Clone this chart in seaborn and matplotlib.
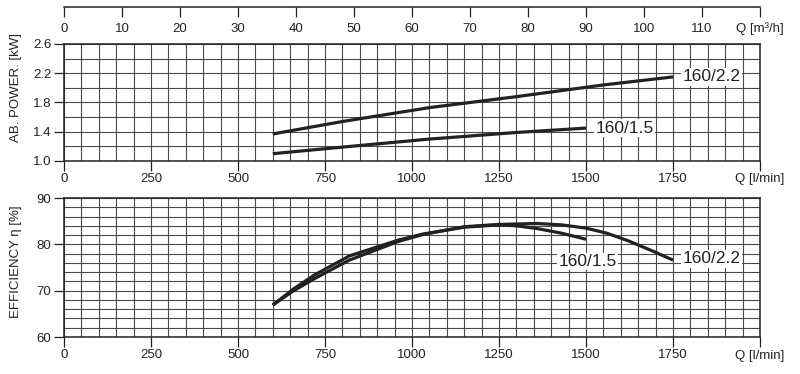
import numpy as np
import pandas as pd
import matplotlib
matplotlib.use("Agg")
import matplotlib.pyplot as plt
import seaborn as sns

# ---- data ----
q_pw_22 = [600, 800, 1050, 1300, 1550, 1750]
power_22 = [1.37, 1.54, 1.73, 1.88, 2.04, 2.15]
q_pw_15 = [600, 800, 1050, 1300, 1500]
power_15 = [1.10, 1.19, 1.30, 1.39, 1.45]

q_ef_22 = [600, 660, 720, 820, 960, 1030, 1150, 1250, 1360, 1430, 1500, 1560, 1620, 1690, 1750]
eff_22 = [66.9, 70.0, 72.6, 76.6, 80.6, 82.1, 83.8, 84.3, 84.5, 84.2, 83.5, 82.4, 80.8, 78.6, 76.6]
q_ef_15 = [600, 660, 720, 820, 960, 1030, 1150, 1250, 1300, 1360, 1430, 1500]
eff_15 = [66.9, 70.4, 73.4, 77.5, 80.9, 82.2, 83.7, 84.2, 84.0, 83.4, 82.4, 81.1]

series_names = ["160/2.2", "160/1.5"]
q_lmin_ticks = [0, 250, 500, 750, 1000, 1250, 1500, 1750, 2000]
q_lmin_labels = ["0", "250", "500", "750", "1000", "1250", "1500", "1750", "Q [l/min]"]
q_m3h_ticks = [0, 10, 20, 30, 40, 50, 60, 70, 80, 90, 100, 110, 120]
q_m3h_labels = ["0", "10", "20", "30", "40", "50", "60", "70", "80", "90", "100", "110", "Q [m³/h]"]
power_ticks = [1.0, 1.4, 1.8, 2.2, 2.6]
eff_ticks = [60, 70, 80, 90]

df_pw = pd.concat([
    pd.DataFrame({"Q": q_pw_22, "power": power_22, "model": series_names[0]}),
    pd.DataFrame({"Q": q_pw_15, "power": power_15, "model": series_names[1]}),
])
df_ef = pd.concat([
    pd.DataFrame({"Q": q_ef_22, "eff": eff_22, "model": series_names[0]}),
    pd.DataFrame({"Q": q_ef_15, "eff": eff_15, "model": series_names[1]}),
])

sns.set_style("white")
plt.rcParams["font.family"] = ["Liberation Sans Narrow", "Liberation Sans", "DejaVu Sans"]

INK = "#222222"
GRID = "#4a4a4a"

fig = plt.figure(figsize=(8, 3.74), dpi=100)
L, W = 64 / 800, 696 / 800
ax1 = fig.add_axes([L, 1 - 161 / 374, W, 117 / 374])
ax2 = fig.add_axes([L, 1 - 337 / 374, W, 139 / 374])
axq = fig.add_axes([L, 1 - 17 / 374, W, 10 / 374])

palette = {series_names[0]: INK, series_names[1]: INK}
sns.lineplot(data=df_pw, x="Q", y="power", hue="model", palette=palette, ax=ax1,
             linewidth=2.3, legend=False, sort=False)
sns.lineplot(data=df_ef, x="Q", y="eff", hue="model", palette=palette, ax=ax2,
             linewidth=2.3, legend=False, sort=False)
for ln in ax1.lines + ax2.lines:
    ln.set_solid_joinstyle("round")
    ln.set_solid_capstyle("butt")

for ax, (ylo, yhi), yt, ystep in [(ax1, (1.0, 2.6), power_ticks, 0.2), (ax2, (60, 90), eff_ticks, 2)]:
    ax.set_xlim(0, 2000)
    ax.set_ylim(ylo, yhi)
    ax.set_xticks(q_lmin_ticks)
    ax.set_xticklabels(q_lmin_labels)
    ax.set_xticks(np.arange(0, 2001, 50), minor=True)
    ax.set_yticks(yt)
    ax.set_yticks(np.arange(ylo, yhi + 1e-9, ystep), minor=True)
    if ystep < 1:
        ax.set_yticklabels([f"{v:.1f}" for v in yt])
    else:
        ax.set_yticklabels([str(v) for v in yt])
    ax.grid(True, which="both", color=GRID, linewidth=0.8)
    ax.set_axisbelow(True)
    ax.tick_params(which="major", direction="out", length=7, width=0.9, color=INK,
                   labelsize=9.5, labelcolor=INK, pad=2, bottom=True, left=True)
    ax.tick_params(which="minor", length=0)
    for s in ax.spines.values():
        s.set_color(INK)
        s.set_linewidth(1.1)
    ax.set_xlabel("")
    ax.set_ylabel("")

# separate m3/h scale above the chart
axq.set_xlim(0, 120)
axq.set_ylim(0, 1)
axq.patch.set_visible(False)
for name, s in axq.spines.items():
    s.set_visible(name == "top")
    s.set_color(INK)
    s.set_linewidth(1.1)
axq.set_yticks([])
axq.set_xticks(q_m3h_ticks)
axq.set_xticklabels(q_m3h_labels)
axq.tick_params(axis="x", bottom=True, length=0, labelsize=9.5, labelcolor=INK, pad=4)
axq.vlines(q_m3h_ticks, 0, 1, color=INK, linewidth=0.9, clip_on=False)

# axis titles
fig.text(16 / 800, 1 - 87 / 374, "AB. POWER. [kW]", rotation=90, ha="center", va="center",
         fontsize=9.5, color=INK)
fig.text(16 / 800, 1 - 262 / 374, "EFFICIENCY η [%]", rotation=90, ha="center", va="center",
         fontsize=9.5, color=INK)

box = dict(facecolor="white", edgecolor="none", pad=1.0)
lab_kw = dict(fontsize=12.5, color=INK, va="center", bbox=box)
ax1.annotate(series_names[0], xy=(q_pw_22[-1], power_22[-1]), xytext=(7, 0),
             textcoords="offset points", ha="left", **lab_kw)
ax1.annotate(series_names[1], xy=(q_pw_15[-1], power_15[-1]), xytext=(7, 0),
             textcoords="offset points", ha="left", **lab_kw)
ax2.annotate(series_names[0], xy=(q_ef_22[-1], eff_22[-1]), xytext=(7, 1),
             textcoords="offset points", ha="left", **lab_kw)
ax2.annotate(series_names[1], xy=(q_ef_15[-1], eff_15[-1]), xytext=(22, -16),
             textcoords="offset points", ha="right", **lab_kw)

fig.savefig("out.png", dpi=100)
